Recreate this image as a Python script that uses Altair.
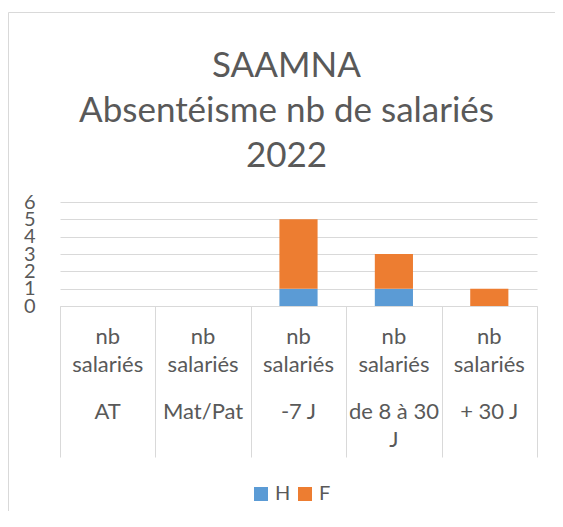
import altair as alt
import pandas as pd

# ---- data ----
categories = ["AT", "Mat/Pat", "-7 J", "de 8 à 30 J", "+ 30 J"]
top_labels = ["nb\nsalariés"] * 5
bottom_labels = ["AT", "Mat/Pat", "-7 J", "de 8 à 30\nJ", "+ 30 J"]
series = ["H", "F"]
values_H = [0, 0, 1, 1, 0]
values_F = [0, 0, 4, 2, 1]
colors = ["#5B9BD5", "#ED7D31"]
y_ticks = [0, 1, 2, 3, 4, 5, 6]

rows = []
for i, c in enumerate(categories):
    rows.append({"cat": c, "serie": "H", "val": values_H[i], "ord": 0})
    rows.append({"cat": c, "serie": "F", "val": values_F[i], "ord": 1})
df = pd.DataFrame(rows)
lab = pd.DataFrame({"cat": categories, "top": top_labels, "bottom": bottom_labels})
one = pd.DataFrame({"k": [0]})

TXT = "#595959"
GRID = "#d9d9d9"
FONT = "Lato"

xenc = alt.X(
    "cat:N",
    sort=categories,
    scale=alt.Scale(paddingInner=0, paddingOuter=0),
    axis=alt.Axis(
        title=None, labels=False, ticks=True, tickBand="extent", tickSize=151,
        tickColor=GRID, domainColor=GRID, grid=False,
    ),
)

bars = alt.Chart(df).mark_bar(width=alt.RelativeBandSize(0.4)).encode(
    x=xenc,
    y=alt.Y(
        "val:Q",
        stack="zero",
        scale=alt.Scale(domain=[0, 6], nice=False),
        axis=alt.Axis(
            title=None, values=y_ticks, ticks=False, domain=False, grid=True,
            gridColor=GRID, labelFontSize=20, labelFont=FONT, labelColor=TXT,
            labelPadding=25, labelOverlap=False,
        ),
    ),
    color=alt.Color(
        "serie:N",
        scale=alt.Scale(domain=series, range=colors),
        legend=alt.Legend(
            title=None, orient="none", legendX=191, legendY=282,
            direction="horizontal", symbolType="square", symbolSize=196,
            symbolStrokeWidth=0, labelFontSize=20, labelFont=FONT,
            labelColor=TXT, labelOffset=4, columnPadding=4,
        ),
    ),
    order=alt.Order("ord:Q"),
)

top_txt = alt.Chart(lab).mark_text(
    font=FONT, fontSize=22, color=TXT, lineBreak="\n", lineHeight=28,
    baseline="alphabetic", align="center",
).encode(x=alt.X("cat:N", sort=categories), y=alt.value(142), text="top:N")

bot_txt = alt.Chart(lab).mark_text(
    font=FONT, fontSize=22, color=TXT, lineBreak="\n", lineHeight=28,
    baseline="alphabetic", align="center",
).encode(x=alt.X("cat:N", sort=categories), y=alt.value(217), text="bottom:N")

border_top = alt.Chart(one).mark_rule(stroke=GRID, strokeWidth=1).encode(
    x=alt.value(-51.5), x2=alt.value(520), y=alt.value(-189.5)
)
border_left = alt.Chart(one).mark_rule(stroke=GRID, strokeWidth=1).encode(
    x=alt.value(-51.5), y=alt.value(-189.5), y2=alt.value(320)
)

chart = alt.layer(border_top, border_left, bars, top_txt, bot_txt).properties(
    width=477,
    height=104,
    padding={"left": 52, "top": 194, "right": 18, "bottom": 205},
    autosize=alt.AutoSizeParams(type="none"),
    title=alt.Title(
        text=["SAAMNA", "Absentéisme nb de salariés", "2022"],
        fontSize=35, font=FONT, fontWeight="normal", color=TXT,
        lineHeight=45, anchor="middle", dx=-12, offset=-162,
    ),
).configure_view(stroke=None)

chart.save("out.html", embed_options={"renderer": "svg", "actions": False})
